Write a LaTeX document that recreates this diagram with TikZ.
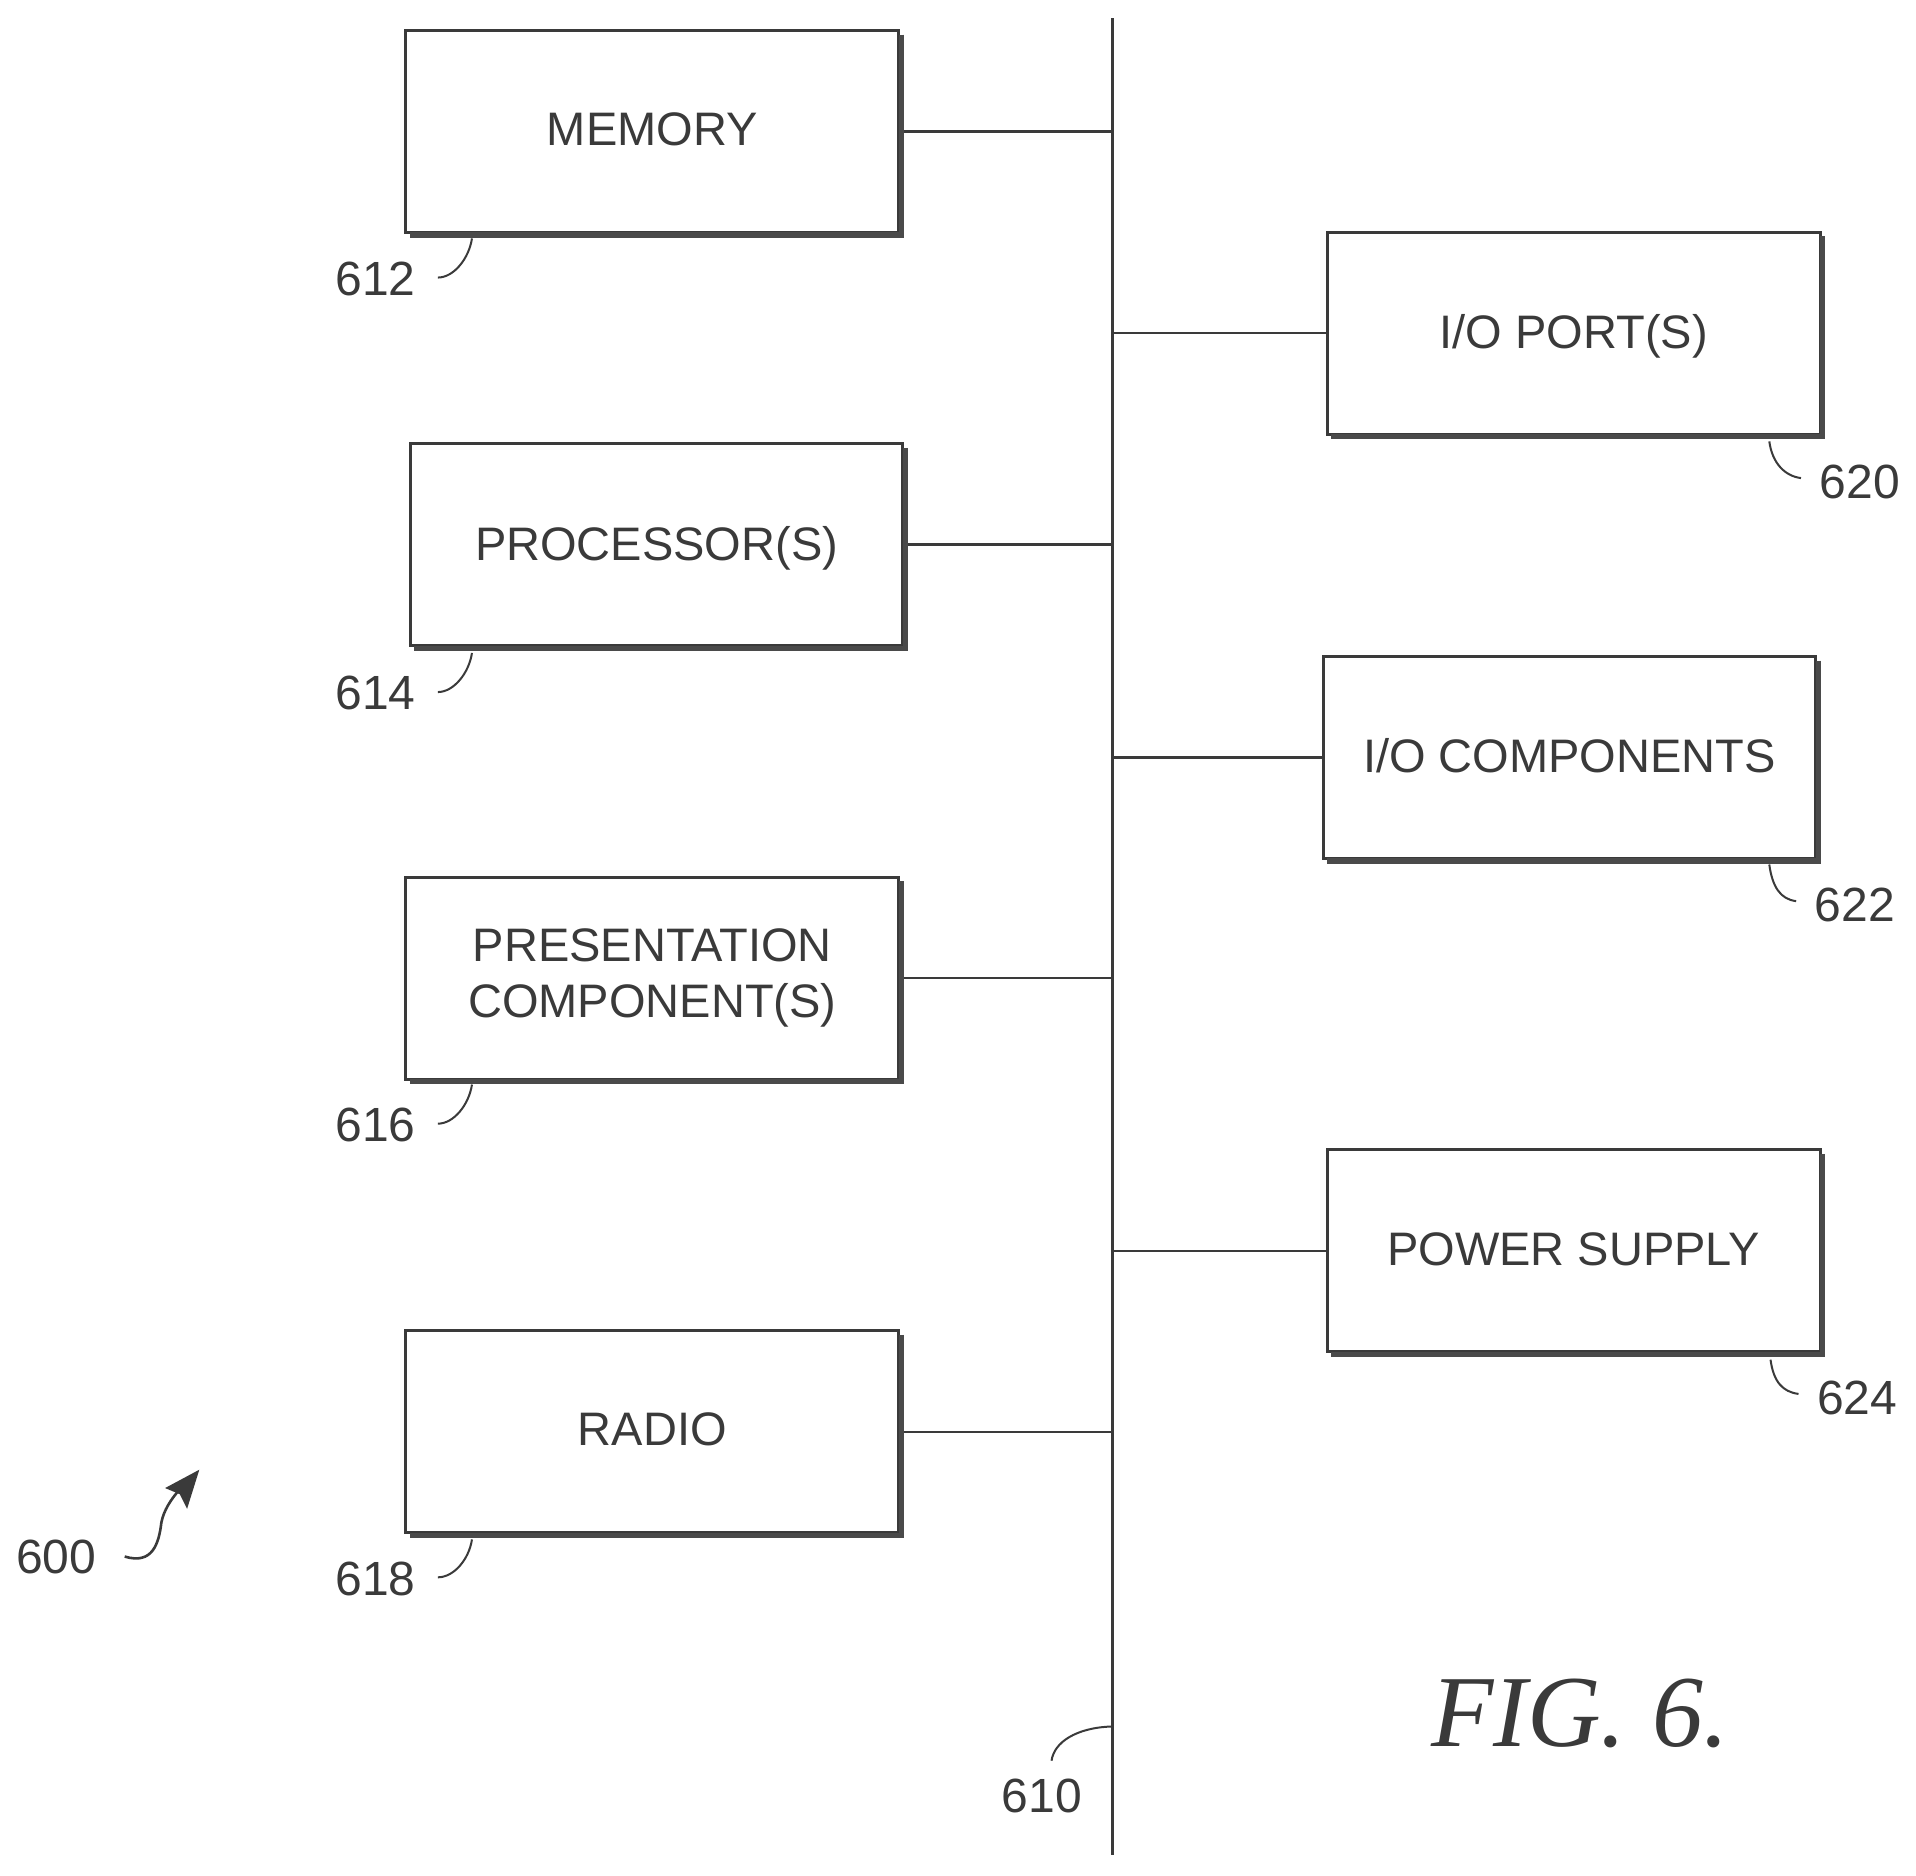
\documentclass[tikz,border=0pt]{standalone}
\usepackage{fontspec}
\setmainfont{Liberation Sans}
\newfontfamily\figfont{Liberation Serif}
\definecolor{ink}{HTML}{3A3A3A}
\definecolor{shade}{HTML}{4A4A4A}
\newcommand{\liftup}[2]{\raisebox{#1pt}[0pt][0pt]{#2}}
\tikzset{
  box/.style={draw=ink,line width=1.5pt,rectangle,outer sep=0pt,minimum width=403*0.6113pt,minimum height=165*0.6113pt,inner sep=0pt,align=center,font=\fontsize{23.5}{28.2}\selectfont,fill=white,text=ink},
  wire/.style={draw=ink,line width=1.3pt},
  shadowline/.style={draw=shade,line width=2.6pt,line cap=butt},
  lbl/.style={inner sep=0pt,font=\fontsize{24}{28}\selectfont,text=ink},
  lead/.style={draw=ink,line width=1pt},
}
\begin{document}
\begin{tikzpicture}[x=0.6113pt,y=-0.6113pt]
\useasboundingbox (0,0) rectangle (1567,1533.5);
\coordinate (bustop) at (910,15);
\coordinate (busbot) at (910,1517);
\draw[wire] (bustop) -- (busbot);
\foreach \n/\x/\y/\t in {
  mem/533.5/107.5/{\liftup{-6.9}{MEMORY}},
  proc/537/445.5/{\liftup{-8.1}{PROCESSOR(S)}},
  pres/533.5/800/{PRESENTATION\\COMPONENT(S)},
  radio/533.5/1171/{\liftup{-6.6}{RADIO}},
  port/1287/272.5/{\liftup{-7.5}{I/O PORT(S)}},
  comp/1283.5/619.5/{\liftup{-7.5}{I/O COMPONENTS}},
  pow/1287/1023/{\liftup{-7.2}{POWER SUPPLY}}}{
  \node[box] (\n) at (\x,\y) {\t};
  \draw[shadowline] ([xshift=1.3pt,yshift=-2pt]\n.north east) -- ([xshift=1.3pt,yshift=-1.3pt]\n.south east) -- ([xshift=2pt,yshift=-1.3pt]\n.south west);
}
\foreach \n in {mem,proc,pres,radio} \draw[wire] ([xshift=2.6pt]\n.east) -- (\n.east -| bustop);
\foreach \n in {port,comp,pow} \draw[wire] (\n.west) -- (\n.west -| bustop);
% reference numerals
\node[lbl] (l612) at (307,228) {612};
\node[lbl] (l614) at (307,567) {614};
\node[lbl] (l616) at (307,920) {616};
\node[lbl] (l618) at (307,1291) {618};
\node[lbl] (l620) at (1521,394) {620};
\node[lbl] (l622) at (1517,740) {622};
\node[lbl] (l624) at (1519,1143) {624};
\node[lbl] (l600) at (46,1273) {600};
\node[lbl] (l610) at (852,1469) {610};
% leaders
\foreach \n/\ex/\ey in {612/386/195,614/386/534,616/386/887,618/386/1259}{
  \coordinate (e\n) at (\ex,\ey);
  \coordinate (s\n) at ([xshift=18*0.6113pt,yshift=1*0.6113pt]l\n.east);
  \draw[lead] (s\n) .. controls ([xshift=8pt]s\n) and ([xshift=-1.5pt,yshift=-10pt]e\n) .. (e\n);
}
\foreach \n/\ex/\ey in {620/1447/361,622/1447/707,624/1448/1112}{
  \coordinate (e\n) at (\ex,\ey);
  \coordinate (s\n) at ([xshift=-15*0.6113pt,yshift=3*0.6113pt]l\n.west);
  \draw[lead] (s\n) .. controls ([xshift=-8pt,yshift=1pt]s\n) and ([xshift=1.5pt,yshift=-11pt]e\n) .. (e\n);
}
\coordinate (a610) at (860,1440);
\coordinate (b610) at (909,1412);
\draw[lead] (a610) .. controls (862,1425) and (880,1413) .. (b610);
% 600 arrow
\coordinate (a600) at (102,1273);
\coordinate (b600) at (147,1218);
\coordinate (tip600) at (163,1202);
\draw[ink,line width=1.3pt] (a600) .. controls (125,1280) and (130,1262) .. (132,1245) .. controls (134,1235) and (140,1226) .. (b600);
\fill[ink] (tip600) -- (153,1234) -- (147,1222) -- (135,1217) -- cycle;
% title
\node[inner sep=0pt,text=ink] (fig) at (1292,1401) {\figfont\itshape\fontsize{51}{60}\selectfont FIG. 6.};
\end{tikzpicture}
\end{document}
